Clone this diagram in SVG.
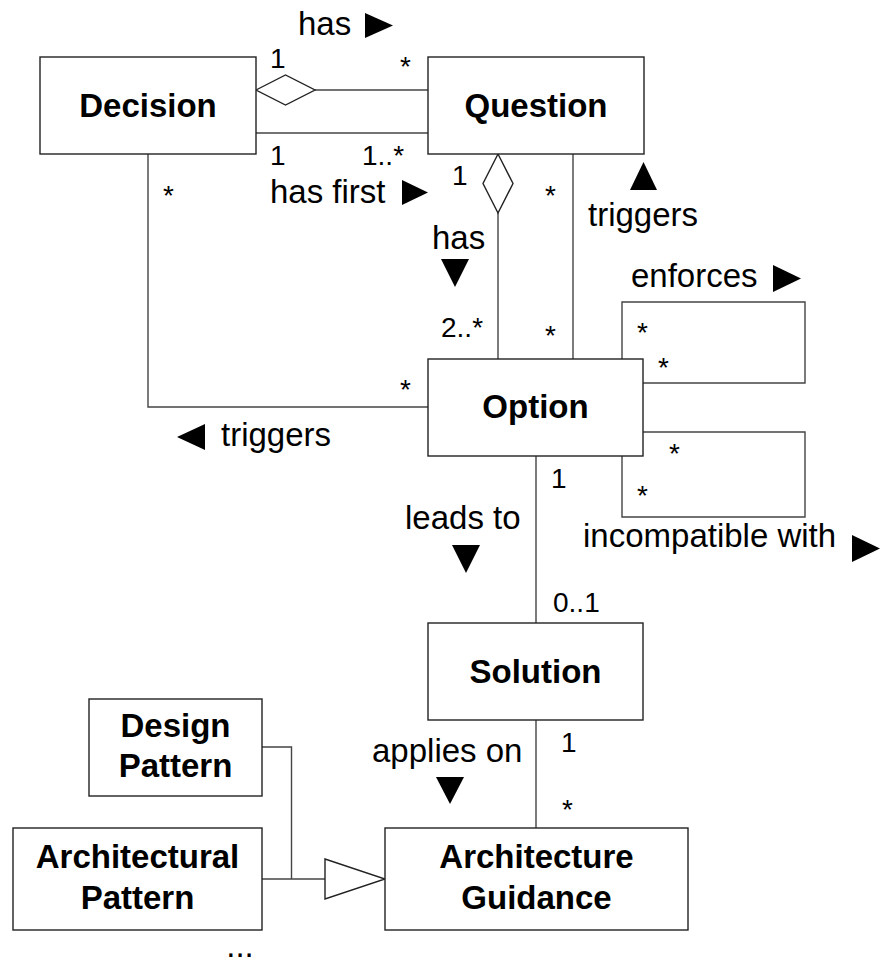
<svg xmlns="http://www.w3.org/2000/svg" width="880" height="965" viewBox="0 0 880 965">
<style>
.box{fill:#fff;stroke:#222;stroke-width:1.4}
.ln{fill:none;stroke:#444;stroke-width:1.4}
.dia{fill:#fff;stroke:#222;stroke-width:1.4}
.nm{font-family:"Liberation Sans",Arial,sans-serif;font-weight:bold;font-size:33px;fill:#000;text-anchor:middle}
.lb{font-family:"Liberation Sans",Arial,sans-serif;font-size:33px;fill:#000}
.m{font-family:"Liberation Sans",Arial,sans-serif;font-size:28px;fill:#000}
.tri{fill:#000}
</style>
<rect width="880" height="965" fill="#fff"/>
<g id="connectors">
  <line class="ln" x1="315" y1="90" x2="428" y2="90"/>
  <polygon class="dia" points="256,90 285.5,75 315,90 285.5,105"/>
  <line class="ln" x1="256" y1="133" x2="428" y2="133"/>
  <polyline class="ln" points="148,154 148,407 428,407"/>
  <line class="ln" x1="498" y1="213" x2="498" y2="359"/>
  <polygon class="dia" points="498,154 513,183.5 498,213 483,183.5"/>
  <line class="ln" x1="573" y1="154" x2="573" y2="359"/>
  <polyline class="ln" points="622,359 622,302 805,302 805,383 643,383"/>
  <polyline class="ln" points="643,432 805,432 805,517 622,517 622,456"/>
  <line class="ln" x1="536" y1="456" x2="536" y2="623"/>
  <line class="ln" x1="536" y1="720" x2="536" y2="828"/>
  <polyline class="ln" points="262,747 291.5,747 291.5,879"/>
  <line class="ln" x1="262" y1="879" x2="325" y2="879"/>
  <polygon class="dia" points="325,859 385,879 325,899"/>
</g>
<g id="decision"><rect class="box" x="40" y="57" width="216" height="97"/><text class="nm" x="148" y="117">Decision</text></g>
<g id="question"><rect class="box" x="428" y="57" width="216" height="97"/><text class="nm" x="536" y="117">Question</text></g>
<g id="option"><rect class="box" x="428" y="359" width="215" height="97"/><text class="nm" x="535.5" y="418">Option</text></g>
<g id="solution"><rect class="box" x="428" y="623" width="215" height="97"/><text class="nm" x="535.5" y="683">Solution</text></g>
<g id="design-pattern"><rect class="box" x="89" y="699" width="173" height="97"/><text class="nm" x="175.5" y="737">Design</text><text class="nm" x="175.5" y="777">Pattern</text></g>
<g id="architectural-pattern"><rect class="box" x="13" y="828" width="249" height="102"/><text class="nm" x="137.5" y="868">Architectural</text><text class="nm" x="137.5" y="909">Pattern</text></g>
<g id="architecture-guidance"><rect class="box" x="385" y="828" width="303" height="102"/><text class="nm" x="536.5" y="868">Architecture</text><text class="nm" x="536.5" y="909">Guidance</text></g>
<g id="labels">
  <text class="lb" x="298" y="35">has</text>
  <polygon class="tri" points="365,13 393,25.5 365,38"/>
  <text class="lb" x="270" y="203">has first</text>
  <polygon class="tri" points="402,180 428,192.5 402,205"/>
  <text class="lb" x="588" y="226">triggers</text>
  <polygon class="tri" points="630,190 643.5,162 657,190"/>
  <text class="lb" x="432" y="249">has</text>
  <polygon class="tri" points="441,259 469,259 455,287"/>
  <text class="lb" x="631" y="287">enforces</text>
  <polygon class="tri" points="773,265 801,278.5 773,292"/>
  <polygon class="tri" points="205,424 177,437 205,450"/>
  <text class="lb" x="221" y="446">triggers</text>
  <text class="lb" x="583" y="547">incompatible with</text>
  <polygon class="tri" points="852,535 880,548.5 852,562"/>
  <text class="lb" x="405" y="529">leads to</text>
  <polygon class="tri" points="452,545 480,545 466,573"/>
  <text class="lb" x="372" y="762">applies on</text>
  <polygon class="tri" points="436,777 464,777 450,804"/>
  <text class="lb" x="240" y="957" text-anchor="middle">...</text>
</g>
<g id="multiplicities">
  <text class="m" x="270" y="68">1</text>
  <text class="m" x="400" y="76">*</text>
  <text class="m" x="270" y="165">1</text>
  <text class="m" x="362" y="165">1..*</text>
  <text class="m" x="163" y="205">*</text>
  <text class="m" x="452" y="185">1</text>
  <text class="m" x="545" y="205">*</text>
  <text class="m" x="441" y="337">2..*</text>
  <text class="m" x="545" y="345">*</text>
  <text class="m" x="400" y="399">*</text>
  <text class="m" x="637" y="342">*</text>
  <text class="m" x="658" y="377">*</text>
  <text class="m" x="669" y="463">*</text>
  <text class="m" x="637" y="505">*</text>
  <text class="m" x="551" y="488">1</text>
  <text class="m" x="553" y="612">0..1</text>
  <text class="m" x="561" y="752">1</text>
  <text class="m" x="562" y="819">*</text>
</g>
</svg>
